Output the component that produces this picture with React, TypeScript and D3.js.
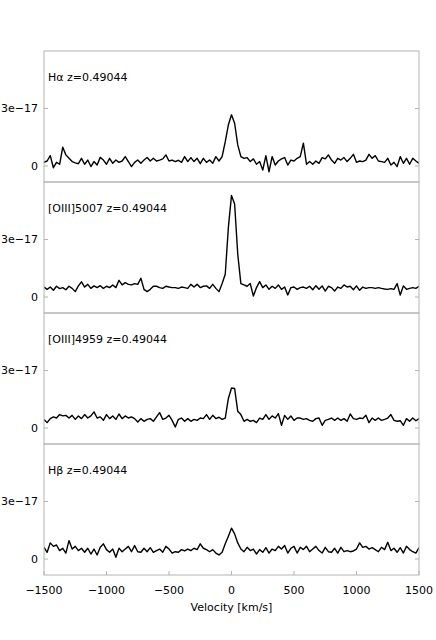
import React from "react";
import * as d3 from "d3";

// Velocity grid (km/s), regular sampling of the spectra
const velocity: number[] = d3.range(-1500, 1525, 25);

const FLUX_UNIT = 1e-17;

const panelLabels = ["Hα z=0.49044", "[OIII]5007 z=0.49044", "[OIII]4959 z=0.49044", "Hβ z=0.49044"];

// flux values in units of 1e-17
const fluxHalpha = [
  0.19, 0.26, 0.54, -0.09, 0.19, 0.09, 0.98, 0.58, 0.40, 0.23, 0.16, 0.12, 0.40, 0.09, 0.31, -0.03, 0.23, 0.05, 0.45, 0.31,
  0.09, 0.40, 0.14, 0.31, 0.19, 0.26, 0.49, 0.23, -0.03, 0.19, 0.31, 0.14, 0.31, 0.44, 0.26, 0.40, 0.26, 0.31, 0.37, 0.58,
  0.26, 0.31, 0.23, 0.30, 0.19, 0.49, 0.23, 0.44, 0.23, 0.40, 0.12, 0.40, 0.19, 0.31, 0.14, 0.49, 0.26, 0.49, 1.27, 2.15,
  2.67, 2.23, 1.10, 0.49, 0.40, 0.44, 0.23, 0.37, 0.09, 0.23, -0.21, 0.54, -0.30, 0.49, 0.05, 0.26, 0.37, 0.44, 0.05, 0.31,
  0.26, 0.40, 0.49, 1.19, 0.09, 0.23, 0.09, 0.26, 0.14, 0.44, 0.37, 0.58, 0.31, 0.14, 0.40, 0.31, 0.44, 0.23, 0.40, 0.61,
  0.19, 0.26, 0.23, 0.31, 0.61, 0.40, 0.54, 0.26, 0.23, 0.19, 0.40, 0.05, 0.19, -0.03, 0.49, 0.14, 0.40, 0.09, 0.40, 0.26,
  0.14,
];

const fluxOIII5007 = [
  0.52, 0.40, 0.52, 0.35, 0.56, 0.44, 0.49, 0.38, 0.56, 0.45, 0.28, 0.58, 0.79, 0.52, 0.66, 0.45, 0.58, 0.49, 0.59, 0.45,
  0.56, 0.49, 0.63, 0.49, 0.87, 0.63, 0.75, 0.66, 0.63, 0.70, 0.66, 0.98, 0.40, 0.28, 0.40, 0.56, 0.56, 0.49, 0.45, 0.56,
  0.52, 0.49, 0.49, 0.45, 0.52, 0.49, 0.45, 0.66, 0.52, 0.66, 0.49, 0.56, 0.58, 0.45, 0.66, 0.45, 0.28, 0.70, 1.19, 3.63,
  5.30, 4.85, 2.23, 0.70, 0.63, 0.56, 0.70, 0.05, 0.49, 0.80, 0.49, 0.63, 0.40, 0.56, 0.45, 0.63, 0.40, 0.52, 0.10, 0.49,
  0.52, 0.40, 0.49, 0.52, 0.45, 0.56, 0.38, 0.59, 0.40, 0.58, 0.31, 0.56, 0.49, 0.31, 0.52, 0.45, 0.63, 0.52, 0.56, 0.38,
  0.58, 0.35, 0.52, 0.45, 0.49, 0.49, 0.45, 0.49, 0.45, 0.42, 0.40, 0.44, 0.40, 0.70, 0.10, 0.58, 0.40, 0.45, 0.49, 0.45,
  0.56,
];

const fluxOIII4959 = [
  0.45, 0.28, 0.49, 0.58, 0.52, 0.70, 0.63, 0.66, 0.52, 0.66, 0.45, 0.63, 0.49, 0.70, 0.52, 0.63, 0.84, 0.52, 0.58, 0.40,
  0.70, 0.49, 0.63, 0.45, 0.73, 0.49, 0.63, 0.52, 0.58, 0.49, 0.31, 0.49, 0.35, 0.45, 0.49, 0.35, 0.58, 0.80, 0.45, 0.52,
  0.66, 0.40, 0.05, 0.45, 0.52, 0.35, 0.49, 0.35, 0.45, 0.40, 0.52, 0.49, 0.70, 0.45, 0.66, 0.49, 0.56, 0.45, 0.52, 1.54,
  2.09, 2.06, 0.87, 0.70, 0.35, 0.45, 0.35, 0.40, 0.28, 0.52, 0.45, 0.70, 0.45, 0.63, 0.52, 0.75, 0.14, 0.66, 0.45, 0.63,
  0.40, 0.52, 0.52, 0.45, 0.49, 0.40, 0.35, 0.49, 0.52, 0.14, 0.40, 0.45, 0.52, 0.40, 0.52, 0.40, 0.49, 0.35, 0.73, 0.49,
  0.45, 0.52, 0.49, 0.66, 0.28, 0.52, 0.40, 0.52, 0.40, 0.45, 0.52, 0.70, 0.40, 0.35, 0.38, 0.14, 0.49, 0.35, 0.52, 0.38,
  0.49,
];

const fluxHbeta = [
  0.61, 0.35, 0.84, 0.66, 0.73, 0.44, 0.56, 0.31, 0.96, 0.52, 0.66, 0.44, 0.56, 0.35, 0.56, 0.26, 0.52, 0.21, 0.61, 0.79,
  0.49, 0.35, 0.52, 0.09, 0.56, 0.38, 0.52, 0.66, 0.38, 0.70, 0.38, 0.35, 0.56, 0.38, 0.59, 0.35, 0.44, 0.52, 0.35, 0.66,
  0.52, 0.31, 0.38, 0.35, 0.49, 0.42, 0.52, 0.44, 0.56, 0.49, 0.79, 0.56, 0.49, 0.38, 0.49, 0.31, 0.21, 0.35, 0.79, 1.19,
  1.61, 1.31, 0.84, 0.52, 0.38, 0.61, 0.44, 0.52, 0.26, 0.49, 0.35, 0.59, 0.31, 0.52, 0.44, 0.66, 0.52, 0.70, 0.31, 0.56,
  0.66, 0.31, 0.61, 0.49, 0.66, 0.38, 0.52, 0.66, 0.44, 0.31, 0.61, 0.38, 0.35, 0.56, 0.31, 0.61, 0.38, 0.44, 0.38, 0.42,
  0.52, 0.84, 0.61, 0.66, 0.52, 0.59, 0.49, 0.38, 0.61, 0.49, 0.87, 0.44, 0.56, 0.35, 0.59, 0.31, 0.66, 0.49, 0.38, 0.31,
  0.59,
];

const series = [fluxHalpha, fluxOIII5007, fluxOIII4959, fluxHbeta];

const xTicks = [-1500, -1000, -500, 0, 500, 1000, 1500];
const yTicks = [0, 3e-17];
const yTickLabels = ["0", "3e−17"];
const xLabel = "Velocity [km/s]";

export default function App() {
  const W = 436;
  const H = 640;
  const left = 44;
  const right = 419;
  const top = 51;
  const panelH = 131;
  const font = "'DejaVu Sans', sans-serif";
  const frame = "#b4b4b4";

  const x = d3.scaleLinear().domain([-1500, 1500]).range([left, right]);

  const fmtMinus = (v: number) => (v < 0 ? "−" + Math.abs(v) : String(v));

  return (
    <svg
      width={W}
      height={H}
      style={{ position: "absolute", left: 0, top: 0, background: "#fff" }}
      fontFamily={font}
    >
      <rect x={0} y={0} width={W} height={H} fill="#fff" />
      {series.map((vals, i) => {
        const py = top + i * panelH;
        const y = d3.scaleLinear().domain([-0.835e-17, 6.0e-17]).range([py + panelH, py]);
        const line = d3
          .line<number>()
          .x((_, j) => x(velocity[j]))
          .y((d) => y(d * FLUX_UNIT));
        return (
          <g key={i}>
            <defs>
              <clipPath id={`clip${i}`}>
                <rect x={left} y={py} width={right - left} height={panelH} />
              </clipPath>
            </defs>
            <path d={line(vals) || ""} fill="none" stroke="#000" strokeWidth={1.4} strokeLinejoin="round" clipPath={`url(#clip${i})`} />
            <rect x={left} y={py} width={right - left} height={panelH} fill="none" stroke={frame} strokeWidth={1} />
            {yTicks.map((t, k) => (
              <g key={k}>
                <line x1={left} x2={left + 4} y1={y(t)} y2={y(t)} stroke={frame} />
                <line x1={right - 4} x2={right} y1={y(t)} y2={y(t)} stroke={frame} />
                <text x={left - 6} y={y(t)} dy="0.35em" textAnchor="end" fontSize={11} fill="#000">
                  {yTickLabels[k]}
                </text>
              </g>
            ))}
            <text x={left + 4} y={py + 30} fontSize={11} fill="#000">
              {panelLabels[i]}
            </text>
          </g>
        );
      })}
      {xTicks.map((t) => {
        const by = top + 4 * panelH;
        return (
          <g key={t}>
            <line x1={x(t)} x2={x(t)} y1={by} y2={by - 4} stroke={frame} />
            <text x={x(t)} y={by + 19} textAnchor="middle" fontSize={11} fill="#000">
              {fmtMinus(t)}
            </text>
          </g>
        );
      })}
      <text x={(left + right) / 2} y={top + 4 * panelH + 36} textAnchor="middle" fontSize={11} fill="#000">
        {xLabel}
      </text>
    </svg>
  );
}
